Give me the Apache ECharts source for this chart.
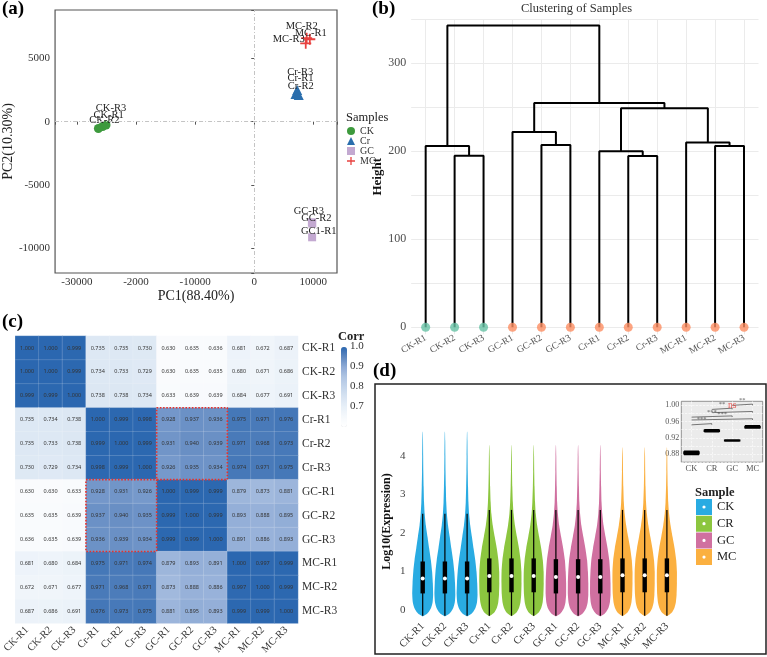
<!DOCTYPE html>
<html>
<head>
<meta charset="utf-8">
<script src="https://cdn.jsdelivr.net/npm/echarts@6/dist/echarts.min.js"></script>
<style>
html, body { margin: 0; padding: 0; background: #fff; }
#main { width: 767px; height: 657px; }
</style>
</head>
<body>
<div id="main"></div>
<script>
var SERIF = 'Liberation Serif';

// ---- (a) PCA ----
var ckNames = ['CK-R1', 'CK-R2', 'CK-R3'];
var ckPC = [[-25650, -380], [-26370, -537], [-25080, -260]];
var crNames = ['Cr-R1', 'Cr-R2', 'Cr-R3'];
var crPC = [[6980, 2190], [7530, 2110], [7260, 2500]];
var gcNames = ['GC1-R1', 'GC-R2', 'GC-R3'];
var gcPC = [[9790, -9130], [9820, -8050], [9750, -7950]];
var mcNames = ['MC-R1', 'MC-R2', 'MC-R3'];
var mcPC = [[9400, 6510], [8870, 6590], [8710, 6190]];
var pcaXTicks = [-30000, -20000, -10000, 0, 10000];
var pcaXTickLabels = ['-30000', '-2000', '-10000', '0', '10000'];

// ---- (b) dendrogram ----
var leafNames = ['CK-R1', 'CK-R2', 'CK-R3', 'GC-R1', 'GC-R2', 'GC-R3',
                 'Cr-R1', 'Cr-R2', 'Cr-R3', 'MC-R1', 'MC-R2', 'MC-R3'];
// hclust style merges: negative = leaf number, positive = earlier merge
var mergePairs = [[-2, -3], [-1, 1], [-5, -6], [-4, 3], [-8, -9], [-7, 5],
                  [-11, -12], [-10, 7], [6, 8], [4, 9], [2, 10]];
var mergeHeights = [195, 206, 207, 222, 194.5, 200, 206, 210, 249, 255, 343];

// ---- (c) correlation heatmap ----
var corrLabels = ['CK-R1', 'CK-R2', 'CK-R3', 'Cr-R1', 'Cr-R2', 'Cr-R3',
                  'GC-R1', 'GC-R2', 'GC-R3', 'MC-R1', 'MC-R2', 'MC-R3'];
var corrMatrix = [
  [1.000, 1.000, 0.999, 0.735, 0.735, 0.730, 0.630, 0.635, 0.636, 0.681, 0.672, 0.687],
  [1.000, 1.000, 0.999, 0.734, 0.733, 0.729, 0.630, 0.635, 0.635, 0.680, 0.671, 0.686],
  [0.999, 0.999, 1.000, 0.738, 0.738, 0.734, 0.633, 0.639, 0.639, 0.684, 0.677, 0.691],
  [0.735, 0.734, 0.738, 1.000, 0.999, 0.998, 0.928, 0.937, 0.936, 0.975, 0.971, 0.976],
  [0.735, 0.733, 0.738, 0.999, 1.000, 0.999, 0.931, 0.940, 0.939, 0.971, 0.968, 0.973],
  [0.730, 0.729, 0.734, 0.998, 0.999, 1.000, 0.926, 0.935, 0.934, 0.974, 0.971, 0.975],
  [0.630, 0.630, 0.633, 0.928, 0.931, 0.926, 1.000, 0.999, 0.999, 0.879, 0.873, 0.881],
  [0.635, 0.635, 0.639, 0.937, 0.940, 0.935, 0.999, 1.000, 0.999, 0.893, 0.888, 0.895],
  [0.636, 0.635, 0.639, 0.936, 0.939, 0.934, 0.999, 0.999, 1.000, 0.891, 0.886, 0.893],
  [0.681, 0.680, 0.684, 0.975, 0.971, 0.974, 0.879, 0.893, 0.891, 1.000, 0.997, 0.999],
  [0.672, 0.671, 0.677, 0.971, 0.968, 0.971, 0.873, 0.888, 0.886, 0.997, 1.000, 0.999],
  [0.687, 0.686, 0.691, 0.976, 0.973, 0.975, 0.881, 0.895, 0.893, 0.999, 0.999, 1.000]
];
// highlighted blocks [colStart, rowStart, colEnd, rowEnd] in cell units
var highlightBlocks = [[6, 3, 9, 6], [3, 6, 6, 9]];
var corrTicks = [1.0, 0.9, 0.8, 0.7];

// ---- (d) violins ----
var violinSamples = ['CK-R1', 'CK-R2', 'CK-R3', 'Cr-R1', 'Cr-R2', 'Cr-R3',
                     'GC-R1', 'GC-R2', 'GC-R3', 'MC-R1', 'MC-R2', 'MC-R3'];
var violinGroups = ['CK', 'CR', 'GC', 'MC'];
var sampleGroup = [0, 0, 0, 1, 1, 1, 2, 2, 2, 3, 3, 3];
// [log10 expression, relative half width]
var ckProfile = [[-0.17, 0], [-0.12, 0.3], [-0.05, 0.58], [0.05, 0.8], [0.2, 0.95], [0.4, 1.0],
  [0.7, 0.97], [1.0, 0.9], [1.3, 0.78], [1.6, 0.62], [1.9, 0.46], [2.2, 0.3], [2.5, 0.19],
  [2.8, 0.13], [3.2, 0.09], [3.6, 0.06], [4.0, 0.045], [4.4, 0.03], [4.63, 0.01]];
var crProfile = [[-0.16, 0], [-0.11, 0.28], [-0.05, 0.52], [0.05, 0.72], [0.2, 0.86], [0.4, 0.93],
  [0.7, 0.96], [1.0, 0.95], [1.3, 0.87], [1.6, 0.72], [1.9, 0.52], [2.2, 0.33], [2.5, 0.2],
  [2.8, 0.13], [3.2, 0.08], [3.6, 0.05], [4.0, 0.035], [4.28, 0.01]];
var gcProfile = [[-0.17, 0], [-0.12, 0.3], [-0.05, 0.56], [0.05, 0.78], [0.2, 0.92], [0.4, 0.98],
  [0.7, 0.98], [1.0, 0.94], [1.3, 0.86], [1.6, 0.7], [1.9, 0.5], [2.2, 0.31], [2.5, 0.19],
  [2.8, 0.12], [3.2, 0.08], [3.6, 0.05], [4.0, 0.035], [4.28, 0.01]];
var mcProfile = [[-0.16, 0], [-0.11, 0.28], [-0.05, 0.52], [0.05, 0.72], [0.2, 0.86], [0.4, 0.93],
  [0.7, 0.96], [1.0, 0.96], [1.3, 0.89], [1.6, 0.74], [1.9, 0.54], [2.2, 0.35], [2.5, 0.21],
  [2.8, 0.13], [3.2, 0.08], [3.6, 0.05], [4.0, 0.035], [4.22, 0.01]];
// [whisker low, q1, median, q3, whisker high]
var ckBox = [-0.15, 0.43, 0.82, 1.26, 2.5];
var crBox = [-0.15, 0.46, 0.88, 1.34, 2.6];
var gcBox = [-0.15, 0.43, 0.86, 1.32, 2.6];
var mcBox = [-0.15, 0.46, 0.90, 1.34, 2.6];

// inset
var insetGroups = ['CK', 'CR', 'GC', 'MC'];
var insetBox = [[0.879, 0.881, 0.883, 0.885, 0.887], [0.935, 0.936, 0.9375, 0.939, 0.940],
                [0.9125, 0.913, 0.9135, 0.914, 0.9145], [0.944, 0.945, 0.9465, 0.948, 0.950]];
var sigPairs = [[0, 1], [0, 3], [0, 2], [1, 3], [1, 2], [2, 3]];
var sigHeights = [0.955, 0.967, 0.974, 0.985, 0.993, 1.003];
var sigLabels = ['***', '***', '***', 'ns', '**', '**'];

// ---------- styles ----------
var pcaColors = ['#3d9a3d', '#2a6ead', '#c3a9d1', '#e8413f'];
var violinColors = ['#29abe2', '#8cc63f', '#d070a0', '#fbb040'];
var insetFill = ['#2d6f8f', '#1a1a1a', '#1a1a1a', '#9a7240'];
var crossIcon = 'path://M4.2,0h1.6v10h-1.6z M0,4.2h10v1.6h-10z';
var dotIcon = 'path://M0,0H16V16H0Z M8,6.4A1.6,1.6 0 1 0 8,9.6A1.6,1.6 0 1 0 8,6.4Z';
var ckLabelOff = [[6, -11.5], [6, -8.5], [5, -17]];
var crLabelOff = [[5, -16], [2, -9], [3, -18]];
var gcLabelOff = [[6.6, -6.3], [4, -5], [-3, -11]];
var mcLabelOff = [[1, -6], [-5, -12], [-17, -4]];

var chart = echarts.init(document.getElementById('main'));
var series = [];

function pcaSeries(name, pts, names, offs, symbol, size, color) {
  return {
    type: 'scatter', name: name, xAxisIndex: 0, yAxisIndex: 0,
    symbol: symbol, symbolSize: size, itemStyle: { color: color, opacity: 1 },
    label: { show: true, position: 'inside', formatter: '{b}', fontFamily: SERIF, fontSize: 10.5, color: '#222' },
    data: pts.map(function (p, i) { return { value: p, name: names[i], label: { offset: offs[i] } }; }),
    z: 3
  };
}
var ckSeries = pcaSeries('CK', ckPC, ckNames, ckLabelOff, 'circle', 9, pcaColors[0]);
ckSeries.markLine = {
  silent: true, symbol: 'none', label: { show: false },
  lineStyle: { color: '#c4c4c4', type: [4, 2, 1, 2], width: 1 },
  data: [{ xAxis: 0 }, { yAxis: 0 }]
};
series.push(ckSeries);
series.push(pcaSeries('Cr', crPC, crNames, crLabelOff, 'triangle', 10, pcaColors[1]));
series.push(pcaSeries('GC', gcPC, gcNames, gcLabelOff, 'rect', 8, pcaColors[2]));
series.push(pcaSeries('MC', mcPC, mcNames, mcLabelOff, crossIcon, 11, pcaColors[3]));

// dendrogram links
var clusterX = [];
mergePairs.forEach(function (pair, k) {
  var pos = pair.map(function (m) {
    return m < 0 ? [-m, 0] : [clusterX[m - 1], mergeHeights[m - 1]];
  });
  var h = mergeHeights[k];
  clusterX[k] = (pos[0][0] + pos[1][0]) / 2;
  series.push({
    type: 'line', xAxisIndex: 1, yAxisIndex: 1, symbol: 'none', silent: true,
    lineStyle: { color: '#000', width: 2 },
    data: [[pos[0][0], pos[0][1]], [pos[0][0], h], [pos[1][0], h], [pos[1][0], pos[1][1]]],
    z: 3
  });
});
series.push({
  type: 'scatter', xAxisIndex: 1, yAxisIndex: 1, symbolSize: 9, silent: true,
  data: leafNames.map(function (n, i) {
    return { value: [i + 1, 0], itemStyle: { color: n.indexOf('CK') === 0 ? '#66c2a5' : '#fc8d62' } };
  }),
  z: 4
});

// heatmap
var heatData = [];
corrMatrix.forEach(function (row, i) {
  row.forEach(function (v, j) { heatData.push([j, i, v]); });
});
var heatIndex = series.length;
series.push({
  type: 'heatmap', xAxisIndex: 2, yAxisIndex: 2, data: heatData,
  label: {
    show: true, fontFamily: 'Noto Sans', fontSize: 5.5, color: '#333',
    formatter: function (p) { return p.value[2].toFixed(3); }
  },
  itemStyle: { borderColor: 'rgba(255,255,255,0.3)', borderWidth: 0.5 },
  emphasis: { disabled: true }
});
highlightBlocks.forEach(function (b) {
  series.push({
    type: 'line', xAxisIndex: 3, yAxisIndex: 3, symbol: 'none', silent: true,
    lineStyle: { color: '#e8302a', type: 'dotted', width: 1.6 },
    data: [[b[0], b[1]], [b[2], b[1]], [b[2], b[3]], [b[0], b[3]], [b[0], b[1]]],
    z: 5
  });
});

// violins
var profiles = [ckProfile, crProfile, gcProfile, mcProfile];
var boxes = [ckBox, crBox, gcBox, mcBox];
function makeViolin(profile, box, color) {
  return function (params, api) {
    var ci = api.value(0);
    var half = api.size([1, 0])[0] * 0.47;
    var right = [], left = [];
    profile.forEach(function (p) {
      var c = api.coord([ci, p[0]]);
      right.push([c[0] + p[1] * half, c[1]]);
      left.unshift([c[0] - p[1] * half, c[1]]);
    });
    var lo = api.coord([ci, box[0]]), q1 = api.coord([ci, box[1]]), md = api.coord([ci, box[2]]);
    var q3 = api.coord([ci, box[3]]), hi = api.coord([ci, box[4]]);
    return {
      type: 'group',
      children: [
        { type: 'polygon', shape: { points: right.concat(left), smooth: 0.2 }, style: { fill: color } },
        { type: 'line', shape: { x1: lo[0], y1: lo[1], x2: hi[0], y2: hi[1] }, style: { stroke: '#000', lineWidth: 1.2 } },
        { type: 'rect', shape: { x: q3[0] - 2.2, y: q3[1], width: 4.4, height: q1[1] - q3[1] }, style: { fill: '#000' } },
        { type: 'circle', shape: { cx: md[0], cy: md[1], r: 2 }, style: { fill: '#fff' } }
      ]
    };
  };
}
violinGroups.forEach(function (g, gi) {
  var d = [];
  sampleGroup.forEach(function (s, i) { if (s === gi) d.push([i, boxes[gi][2]]); });
  series.push({
    type: 'custom', name: g, xAxisIndex: 4, yAxisIndex: 4, silent: true,
    renderItem: makeViolin(profiles[gi], boxes[gi], violinColors[gi]),
    encode: { x: 0, y: 1 }, data: d, itemStyle: { color: violinColors[gi] }, z: 2
  });
});

// inset
series.push({
  type: 'boxplot', xAxisIndex: 5, yAxisIndex: 5, boxWidth: [15, 15], silent: true,
  data: insetBox.map(function (b, i) {
    return { value: b, itemStyle: { color: insetFill[i], borderColor: '#000', borderWidth: 1.5 } };
  }),
  z: 3
});
sigPairs.forEach(function (p, k) {
  var y = sigHeights[k];
  series.push({
    type: 'line', xAxisIndex: 6, yAxisIndex: 5, symbol: 'none', silent: true,
    lineStyle: { color: '#444', width: 0.7 },
    data: [[p[0], y - 0.003], [p[0], y], [p[1], y], [p[1], y - 0.003]],
    z: 4
  });
});
series.push({
  type: 'scatter', xAxisIndex: 6, yAxisIndex: 5, symbolSize: 1, silent: true,
  itemStyle: { color: 'transparent' },
  label: { show: true, position: 'top', distance: 0, formatter: '{b}', fontFamily: SERIF },
  data: sigPairs.map(function (p, k) {
    var isNs = sigLabels[k] === 'ns';
    return {
      value: [(p[0] + p[1]) / 2, sigHeights[k]], name: sigLabels[k],
      label: { color: isNs ? '#e8302a' : '#333', fontSize: isNs ? 9.5 : 6.5 }
    };
  }),
  z: 5
});

var corrLabelTexts = corrTicks.map(function (v) {
  return {
    type: 'text', left: 350, top: 347 + (1.0 - v) / 0.4 * 80 - 6,
    style: { text: v.toFixed(1), font: '11px "Liberation Serif"', fill: '#333' }
  };
});

var titleFont = { fontFamily: SERIF, fontSize: 19, fontWeight: 'bold', color: '#000' };

chart.setOption({
  animation: false,
  backgroundColor: '#fff',
  title: [
    { text: '(a)', left: 2, top: 0, padding: 0, textStyle: titleFont },
    { text: '(b)', left: 372, top: 0, padding: 0, textStyle: titleFont },
    { text: '(c)', left: 2, top: 313, padding: 0, textStyle: titleFont },
    { text: '(d)', left: 373, top: 362, padding: 0, textStyle: titleFont },
    { text: 'Clustering of Samples', left: 521, top: 2, padding: 0,
      textStyle: { fontFamily: SERIF, fontSize: 12.5, fontWeight: 'normal', color: '#333' } },
    { text: 'Samples', left: 346, top: 111, padding: 0,
      textStyle: { fontFamily: SERIF, fontSize: 12.5, fontWeight: 'normal', color: '#222' } },
    { text: 'Corr', left: 338, top: 330, padding: 0,
      textStyle: { fontFamily: SERIF, fontSize: 12.5, fontWeight: 'bold', color: '#222' } },
    { text: 'Sample', left: 695, top: 486, padding: 0,
      textStyle: { fontFamily: SERIF, fontSize: 12.5, fontWeight: 'bold', color: '#222' } }
  ],
  legend: [
    {
      orient: 'vertical', left: 347, top: 126, padding: 0, itemWidth: 8, itemHeight: 8, itemGap: 0,
      selectedMode: false,
      textStyle: { fontFamily: SERIF, fontSize: 10, color: '#333', lineHeight: 10 },
      data: [
        { name: 'CK', icon: 'circle', itemStyle: { color: pcaColors[0] } },
        { name: 'Cr', icon: 'triangle', itemStyle: { color: pcaColors[1] } },
        { name: 'GC', icon: 'rect', itemStyle: { color: pcaColors[2] } },
        { name: 'MC', icon: crossIcon, itemStyle: { color: pcaColors[3] } }
      ]
    },
    {
      orient: 'vertical', left: 696, top: 499, padding: 0, itemWidth: 16, itemHeight: 16, itemGap: 0.7,
      selectedMode: false,
      textStyle: { fontFamily: SERIF, fontSize: 12.5, color: '#222' },
      data: violinGroups.map(function (n, i) {
        return { name: n, icon: dotIcon, itemStyle: { color: violinColors[i] } };
      })
    }
  ],
  visualMap: {
    type: 'continuous', seriesIndex: heatIndex, min: 0.6, max: 1.0,
    left: 341, top: 347, itemWidth: 6, itemHeight: 80, padding: 0,
    calculable: false, showLabel: false, text: ['', ''],
    inRange: { color: ['#ffffff', '#f6f9fc', '#e8f0f8', '#d8e4f2', '#c4d5eb', '#b0c5e3', '#8fabd6', '#5f88c0', '#2b67b0'] }
  },
  graphic: corrLabelTexts.concat([
    { type: 'rect', shape: { x: 375, y: 384, width: 391, height: 270 },
      style: { fill: 'none', stroke: '#222', lineWidth: 1.5 }, z: 10 }
  ]),
  grid: [
    { left: 41, top: 10, width: 296, height: 263, show: true, borderColor: '#555', borderWidth: 1.2 },
    { left: 411.2, top: 19.3, width: 347.3, height: 315 },
    { left: 6, top: 336, width: 292, height: 291 },
    { left: 411.6, top: 423.3, width: 266.4, height: 196.3 },
    { left: 681.3, top: 401.3, width: 81.4, height: 60.9, show: true, backgroundColor: '#ebebeb', borderColor: '#777', borderWidth: 0.8 }
  ],
  xAxis: [
    { type: 'value', gridIndex: 0, min: -33700, max: 14000,
      name: 'PC1(88.40%)', nameLocation: 'middle', nameGap: 13,
      nameTextStyle: { fontFamily: SERIF, fontSize: 14, color: '#222' },
      axisLine: { show: false }, splitLine: { show: false },
      axisTick: { show: true, length: 3, lineStyle: { color: '#555' } },
      axisLabel: { fontFamily: SERIF, fontSize: 11, color: '#333', margin: 4,
        formatter: function (v) { var i = pcaXTicks.indexOf(v); return i < 0 ? '' : pcaXTickLabels[i]; } } },
    { type: 'value', gridIndex: 1, min: 0.5, max: 12.5, splitNumber: 12,
      axisLine: { show: false }, axisTick: { show: false },
      splitLine: { show: true, showMinLine: false, showMaxLine: false, lineStyle: { color: '#ebebeb', width: 1 } },
      axisLabel: { rotate: 30, margin: 3, fontFamily: SERIF, fontSize: 9.5, color: '#555',
        formatter: function (v) { return Number.isInteger(v) ? leafNames[v - 1] : ''; } } },
    { type: 'category', gridIndex: 2, data: corrLabels,
      axisLine: { show: false }, axisTick: { show: false }, splitLine: { show: false },
      axisLabel: { rotate: 45, interval: 0, margin: 5, fontFamily: SERIF, fontSize: 10.5, color: '#333' } },
    { type: 'value', gridIndex: 2, min: 0, max: 12, show: false },
    { type: 'category', gridIndex: 3, data: violinSamples,
      axisLine: { show: false }, axisTick: { show: false }, splitLine: { show: false },
      axisLabel: { rotate: 45, interval: 0, margin: 5, fontFamily: SERIF, fontSize: 10.5, color: '#333' } },
    { type: 'category', gridIndex: 4, data: insetGroups,
      axisLine: { show: false }, axisTick: { show: false }, splitLine: { show: false },
      axisLabel: { margin: 2, fontFamily: SERIF, fontSize: 8.5, color: '#555' } },
    { type: 'value', gridIndex: 4, min: -0.5, max: 3.5, splitNumber: 4,
      axisLine: { show: false }, axisTick: { show: false }, axisLabel: { show: false },
      splitLine: { show: true, showMinLine: false, showMaxLine: false, lineStyle: { color: '#fff', type: 'dashed', width: 0.6 } } }
  ],
  yAxis: [
    { type: 'value', gridIndex: 0, min: -11950, max: 8820,
      name: 'PC2(10.30%)', nameLocation: 'middle', nameGap: 24,
      nameTextStyle: { fontFamily: SERIF, fontSize: 14, color: '#222' },
      axisLine: { show: false }, splitLine: { show: false },
      axisTick: { show: true, length: 3, lineStyle: { color: '#555' } },
      axisLabel: { fontFamily: SERIF, fontSize: 11, color: '#333', margin: 5,
        formatter: function (v) { return v % 5000 === 0 ? String(v) : ''; } } },
    { type: 'value', gridIndex: 1, min: -8, max: 350, splitNumber: 8,
      name: 'Height', nameLocation: 'middle', nameGap: 17,
      nameTextStyle: { fontFamily: SERIF, fontSize: 13, fontWeight: 'bold', color: '#111' },
      axisLine: { show: false }, axisTick: { show: false },
      splitLine: { show: true, showMinLine: false, lineStyle: { color: '#ebebeb', width: 1 } },
      axisLabel: { fontFamily: SERIF, fontSize: 12, color: '#4d4d4d', margin: 5,
        formatter: function (v) { return v >= 0 && v % 100 === 0 ? String(v) : ''; } } },
    { type: 'category', gridIndex: 2, data: corrLabels, inverse: true, position: 'right',
      axisLine: { show: false }, axisTick: { show: false }, splitLine: { show: false },
      axisLabel: { margin: 4, fontFamily: SERIF, fontSize: 11.5, color: '#333' } },
    { type: 'value', gridIndex: 2, min: 0, max: 12, inverse: true, show: false },
    { type: 'value', gridIndex: 3, min: -0.25, max: 4.85,
      name: 'Log10(Expression)', nameLocation: 'middle', nameGap: 19,
      nameTextStyle: { fontFamily: SERIF, fontSize: 12, fontWeight: 'bold', color: '#111' },
      axisLine: { show: false }, axisTick: { show: false }, splitLine: { show: false },
      axisLabel: { fontFamily: SERIF, fontSize: 11, color: '#444', margin: 6,
        formatter: function (v) { return Number.isInteger(v) ? String(v) : ''; } } },
    { type: 'value', gridIndex: 4, min: 0.86, max: 1.01, interval: 0.02,
      axisLine: { show: false }, axisTick: { show: false },
      splitLine: { show: true, showMaxLine: false, lineStyle: { color: '#fff', type: 'dashed', width: 0.6 } },
      axisLabel: { fontFamily: SERIF, fontSize: 8, color: '#555', margin: 2,
        formatter: function (v) { var r = Math.round(v * 100); return (r % 4 === 0 && r >= 88) ? v.toFixed(2) : ''; } } }
  ],
  series: series
});
</script>
</body>
</html>
